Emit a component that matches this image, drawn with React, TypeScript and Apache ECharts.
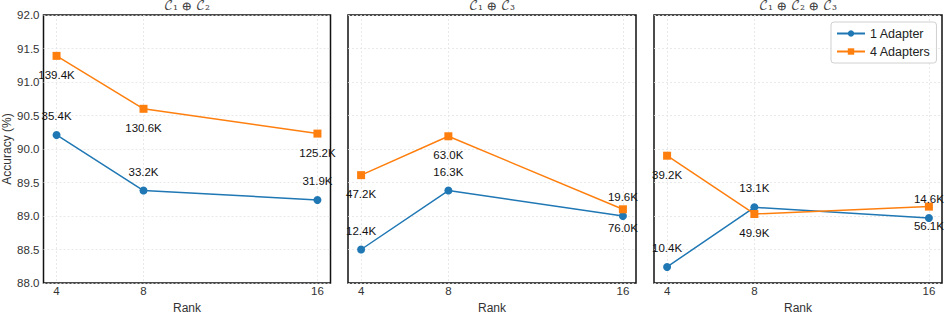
import React, { useEffect, useRef } from "react";
import * as echarts from "echarts";

const ranks = [4, 8, 16];
const panelTitles = ["𝒞₁ ⊕ 𝒞₂", "𝒞₁ ⊕ 𝒞₃", "𝒞₁ ⊕ 𝒞₂ ⊕ 𝒞₃"];
const seriesNames = ["1 Adapter", "4 Adapters"];
const yTicks = [88, 92, 0.5];

// Panel C1+C2
const acc1_C12 = [90.21, 89.38, 89.24];
const acc4_C12 = [91.39, 90.6, 90.23];
const par1_C12 = ["35.4K", "33.2K", "31.9K"];
const par4_C12 = ["139.4K", "130.6K", "125.2K"];
// Panel C1+C3
const acc1_C13 = [88.5, 89.38, 89.0];
const acc4_C13 = [89.61, 90.19, 89.1];
const par1_C13 = ["12.4K", "16.3K", "19.6K"];
const par4_C13 = ["47.2K", "63.0K", "76.0K"];
// Panel C1+C2+C3
const acc1_C123 = [88.24, 89.13, 88.97];
const acc4_C123 = [89.9, 89.03, 89.14];
const par1_C123 = ["10.4K", "13.1K", "14.6K"];
const par4_C123 = ["39.2K", "49.9K", "56.1K"];

const panels = [
  { a1: acc1_C12, a4: acc4_C12, p1: par1_C12, p4: par4_C12 },
  { a1: acc1_C13, a4: acc4_C13, p1: par1_C13, p4: par4_C13 },
  { a1: acc1_C123, a4: acc4_C123, p1: par1_C123, p4: par4_C123 },
];

const BLUE = "#1f77b4";
const ORANGE = "#ff7f0e";
const FONT = "'Liberation Sans', 'DejaVu Sans', sans-serif";

const grids = [
  { left: 43.5, top: 15, width: 287, height: 268 },
  { left: 348, top: 15, width: 288, height: 268 },
  { left: 654, top: 15, width: 288, height: 268 },
];

export default function App() {
  const ref = useRef<HTMLDivElement>(null);
  useEffect(() => {
    document.body.style.margin = "0";
    const chart = echarts.init(ref.current!, null, { renderer: "svg" });
    const gridLine = { show: true, lineStyle: { color: "#e3e3e3", width: 0.8, type: [2, 2] as any } };
    const series: any[] = [];
    panels.forEach((p, gi) => {
      series.push({
        name: seriesNames[0],
        type: "line",
        xAxisIndex: gi,
        yAxisIndex: gi,
        data: ranks.map((r, i) => [r, p.a1[i]]),
        symbol: "circle",
        symbolSize: 8,
        lineStyle: { color: BLUE, width: 1.5 },
        itemStyle: { color: BLUE },
        label: {
          show: true,
          position: "top",
          distance: 9,
          fontFamily: FONT,
          fontSize: 11.5,
          color: "#111",
          formatter: (q: any) => p.p1[q.dataIndex],
        },
        z: 3,
      });
      series.push({
        name: seriesNames[1],
        type: "line",
        xAxisIndex: gi,
        yAxisIndex: gi,
        data: ranks.map((r, i) => [r, p.a4[i]]),
        symbol: "rect",
        symbolSize: 8,
        lineStyle: { color: ORANGE, width: 1.5 },
        itemStyle: { color: ORANGE },
        label: {
          show: true,
          position: "bottom",
          distance: 9,
          fontFamily: FONT,
          fontSize: 11.5,
          color: "#111",
          formatter: (q: any) => p.p4[q.dataIndex],
        },
        z: 3,
      });
    });

    chart.setOption({
      animation: false,
      textStyle: { fontFamily: FONT },
      title: panelTitles.map((t, i) => ({
        text: t,
        left: grids[i].left + grids[i].width / 2,
        top: 0,
        textAlign: "center",
        padding: 0,
        textStyle: {
          fontFamily: "'DejaVu Math TeX Gyre', 'DejaVu Serif', 'DejaVu Sans', serif",
          fontSize: 12.5,
          fontWeight: "normal",
          color: "#444",
        },
      })),
      legend: {
        data: seriesNames,
        orient: "vertical",
        left: 831,
        top: 22,
        itemWidth: 28,
        itemHeight: 8,
        itemGap: 5,
        padding: [5, 6, 5, 5],
        borderColor: "#d0d0d0",
        borderWidth: 1,
        borderRadius: 3,
        backgroundColor: "rgba(255,255,255,0.8)",
        textStyle: { fontFamily: FONT, fontSize: 12.5, color: "#222" },
      },
      grid: grids.map((g) => ({
        ...g,
        outerBoundsMode: "none",
        containLabel: false,
        show: true,
        borderColor: "#111",
        borderWidth: 1.5,
        backgroundColor: "transparent",
      })),
      xAxis: grids.map((_, i) => ({
        type: "value",
        gridIndex: i,
        min: 3.4,
        max: 16.6,
        name: "Rank",
        nameLocation: "middle",
        nameGap: 14,
        nameTextStyle: { fontFamily: FONT, fontSize: 12, color: "#333" },
        axisLine: { show: false },
        axisTick: { show: false, customValues: ranks },
        axisLabel: { customValues: ranks, fontFamily: FONT, fontSize: 11.5, color: "#333", margin: 2 },
        splitLine: gridLine,
      })),
      yAxis: grids.map((_, i) => ({
        type: "value",
        gridIndex: i,
        min: yTicks[0],
        max: yTicks[1],
        interval: yTicks[2],
        name: i === 0 ? "Accuracy (%)" : "",
        nameLocation: "middle",
        nameGap: 29,
        nameTextStyle: { fontFamily: FONT, fontSize: 12, color: "#333" },
        axisLine: { show: false },
        axisTick: { show: false },
        axisLabel: {
          show: i === 0,
          fontFamily: FONT,
          fontSize: 11.5,
          color: "#333",
          margin: 4,
          formatter: (v: number) => v.toFixed(1),
        },
        splitLine: gridLine,
      })),
      series,
    });
    return () => chart.dispose();
  }, []);
  return <div ref={ref} style={{ width: 947, height: 315 }} />;
}
